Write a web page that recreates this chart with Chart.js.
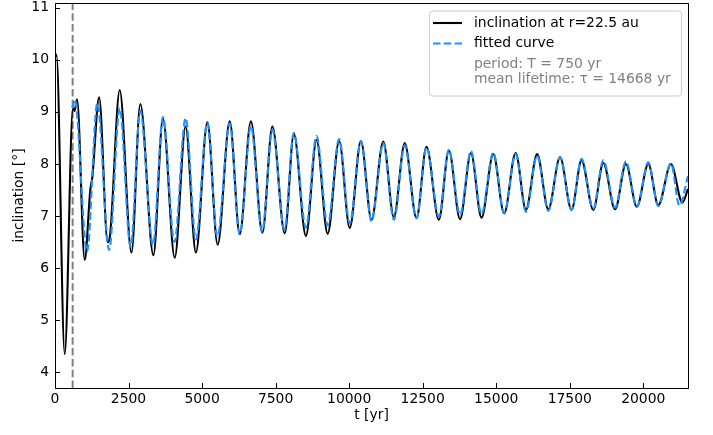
<!DOCTYPE html>
<html>
<head>
<meta charset="utf-8">
<script src="https://cdn.jsdelivr.net/npm/chart.js@4.4.1/dist/chart.umd.min.js"></script>
<style>
  html, body { margin: 0; padding: 0; background: #fff; }
  #wrap { width: 713px; height: 435px; }
</style>
</head>
<body>
<div id="wrap"><canvas id="chart" width="713" height="435"></canvas></div>
<script>
// simulated inclination (extrema + a few shape points)
const timeSim = [0, 50, 330, 610, 665, 750, 1010, 1200, 1270, 1500, 1790, 1860, 2200, 2600, 2900, 3345, 3670,
  4070, 4440, 4790, 5180, 5530, 5940, 6280, 6660, 7050, 7390, 7810, 8120, 8530, 8890, 9270, 9660,
  10020, 10400, 10760, 11160, 11520, 11890, 12290, 12630, 13050, 13390, 13770, 14140, 14500, 14900,
  15270, 15660, 16010, 16390, 16770, 17170, 17560, 17900, 18300, 18640, 19040, 19410, 19780, 20170,
  20510, 20940, 21330, 21520];
const inclSim = [10.05, 10.1, 4.35, 9.07, 9.02, 9.24, 6.16, 7.5, 7.75, 9.28, 6.5, 6.58, 9.42, 6.3, 9.15, 6.25, 8.87,
  6.2, 8.72, 6.3, 8.8, 6.45, 8.82, 6.65, 8.82, 6.68, 8.72, 6.67, 8.58, 6.62, 8.46, 6.66, 8.44,
  6.77, 8.44, 6.93, 8.43, 6.98, 8.4, 6.96, 8.33, 6.93, 8.26, 6.94, 8.21, 6.97, 8.19,
  7.05, 8.21, 7.12, 8.19, 7.13, 8.13, 7.12, 8.07, 7.12, 8.02, 7.13, 8.0, 7.18, 8.0,
  7.21, 8.0, 7.26, 7.52];

// fitted damped oscillation
const timeFit = [590, 670, 1090, 1440, 1840, 2200, 2570, 2900, 3330, 3670, 4060, 4440, 4790, 5180, 5520,
  5940, 6280, 6660, 7040, 7390, 7800, 8120, 8530, 8890, 9270, 9660, 10020, 10400, 10760, 11160,
  11520, 11890, 12290, 12630, 13050, 13390, 13770, 14140, 14500, 14900, 15270, 15660, 16010, 16390,
  16770, 17170, 17560, 17900, 18300, 18640, 19040, 19410, 19780, 20170, 20510, 20940, 21230, 21520];
const inclFit = [9.07, 9.24, 6.32, 9.17, 6.35, 9.07, 6.41, 9.02, 6.45, 8.9, 6.5, 8.88, 6.55, 8.8, 6.6,
  8.78, 6.65, 8.73, 6.7, 8.66, 6.74, 8.6, 6.78, 8.54, 6.82, 8.48, 6.86, 8.44, 6.9, 8.4,
  6.93, 8.36, 6.96, 8.32, 6.99, 8.28, 7.02, 8.25, 7.04, 8.22, 7.06, 8.19, 7.08, 8.16,
  7.1, 8.13, 7.12, 8.1, 7.14, 8.07, 7.16, 8.05, 7.18, 8.03, 7.19, 8.01, 7.2, 7.77];

const fitStart = 600;
const xRange = [0, 21520];
const yRange = [3.7, 11.09];
const xTicks = [0, 2500, 5000, 7500, 10000, 12500, 15000, 17500, 20000];
const yTicks = [4, 5, 6, 7, 8, 9, 10, 11];

const legendLines = ['period: T = 750 yr', 'mean lifetime: \u03c4 = 14668 yr'];

const FONT = 'DejaVu Sans';
const BLUE = '#1e90ff';

const toPoints = (xs, ys) => xs.map((x, i) => ({ x, y: ys[i] }));

// matplotlib-style frame with inward ticks
const framePlugin = {
  id: 'frame',
  afterDatasetsDraw(chart) {
    const { ctx, chartArea: a, scales: { x, y } } = chart;
    ctx.save();
    ctx.strokeStyle = '#000';
    ctx.lineWidth = 1;
    ctx.beginPath();
    x.ticks.forEach(t => {
      const px = Math.round(x.getPixelForValue(t.value)) + 0.5;
      ctx.moveTo(px, a.bottom);
      ctx.lineTo(px, a.bottom - 5);
    });
    y.ticks.forEach(t => {
      const py = Math.round(y.getPixelForValue(t.value)) + 0.5;
      ctx.moveTo(a.left, py);
      ctx.lineTo(a.left + 5, py);
    });
    ctx.stroke();
    ctx.strokeRect(a.left + 0.5, a.top + 0.5, a.right - a.left, a.bottom - a.top);
    ctx.restore();
  }
};

const legendPlugin = {
  id: 'boxLegend',
  afterDraw(chart) {
    const { ctx, chartArea: a } = chart;
    const left = a.right - 259, top = a.top + 7.5;
    ctx.save();
    ctx.beginPath();
    ctx.roundRect(left + 0.5, top + 0.5, 252, 85, 3);
    ctx.fillStyle = 'rgba(255,255,255,0.8)';
    ctx.fill();
    ctx.strokeStyle = '#cccccc';
    ctx.lineWidth = 1;
    ctx.stroke();

    ctx.font = '13.9px "' + FONT + '"';
    ctx.textBaseline = 'middle';
    ctx.textAlign = 'left';
    const ds = chart.data.datasets;
    [0, 1].forEach((k, i) => {
      const yy = top + 12.5 + i * 20.5;
      ctx.beginPath();
      ctx.setLineDash(ds[k].borderDash || []);
      ctx.strokeStyle = ds[k].borderColor;
      ctx.lineWidth = ds[k].borderWidth;
      ctx.moveTo(left + 4, yy);
      ctx.lineTo(left + 33, yy);
      ctx.stroke();
      ctx.setLineDash([]);
      ctx.fillStyle = '#000';
      ctx.fillText(ds[k].label, left + 45, yy);
    });
    ctx.fillStyle = '#808080';
    legendLines.forEach((s, i) => ctx.fillText(s, left + 45, top + 53.5 + i * 15.5));
    ctx.restore();
  }
};

const tickFont = { family: FONT, size: 13.9 };

new Chart(document.getElementById('chart'), {
  type: 'line',
  data: {
    datasets: [
      {
        label: 'inclination at r=22.5 au',
        data: toPoints(timeSim, inclSim),
        borderColor: '#000',
        borderWidth: 2.1,
        cubicInterpolationMode: 'monotone',
        pointRadius: 0,
        clip: 0,
        order: 2,
      },
      {
        label: 'fitted curve',
        data: toPoints(timeFit, inclFit),
        borderColor: BLUE,
        borderWidth: 2.1,
        borderDash: [7.5, 3.3],
        cubicInterpolationMode: 'monotone',
        pointRadius: 0,
        clip: 0,
        order: 1,
      },
      {
        label: 'fit start',
        data: toPoints([fitStart, fitStart], yRange),
        borderColor: '#808080',
        borderWidth: 2,
        borderDash: [7.5, 3.3],
        pointRadius: 0,
        clip: 0,
        order: 3,
      },
    ],
  },
  options: {
    responsive: false,
    animation: false,
    devicePixelRatio: 1,
    layout: { padding: { top: 3, right: 25, left: 0, bottom: 0 } },
    scales: {
      x: {
        type: 'linear',
        min: xRange[0],
        max: xRange[1],
        grid: { display: false, drawTicks: false },
        border: { display: false },
        afterBuildTicks: s => { s.ticks = xTicks.map(v => ({ value: v })); },
        ticks: { padding: 3, color: '#000', font: tickFont, maxRotation: 0, autoSkip: false, callback: v => String(v) },
        title: { display: true, text: 't [yr]', color: '#000', font: tickFont, padding: { top: 0, bottom: 11 } },
        afterFit: s => { s.height = 47; s.paddingLeft = 0; s.paddingRight = 0; },
      },
      y: {
        type: 'linear',
        min: yRange[0],
        max: yRange[1],
        grid: { display: false, drawTicks: false },
        border: { display: false },
        afterBuildTicks: s => { s.ticks = yTicks.map(v => ({ value: v })); },
        ticks: { padding: 6, color: '#000', font: tickFont, autoSkip: false, callback: v => String(v) },
        title: { display: true, text: 'inclination [\u00b0]', color: '#000', font: tickFont, padding: { top: 11, bottom: 0 } },
        afterFit: s => { s.width = 55; s.paddingTop = 0; s.paddingBottom = 0; },
      },
    },
    plugins: {
      legend: { display: false },
      tooltip: { enabled: false },
    },
  },
  plugins: [framePlugin, legendPlugin],
});
</script>
</body>
</html>
